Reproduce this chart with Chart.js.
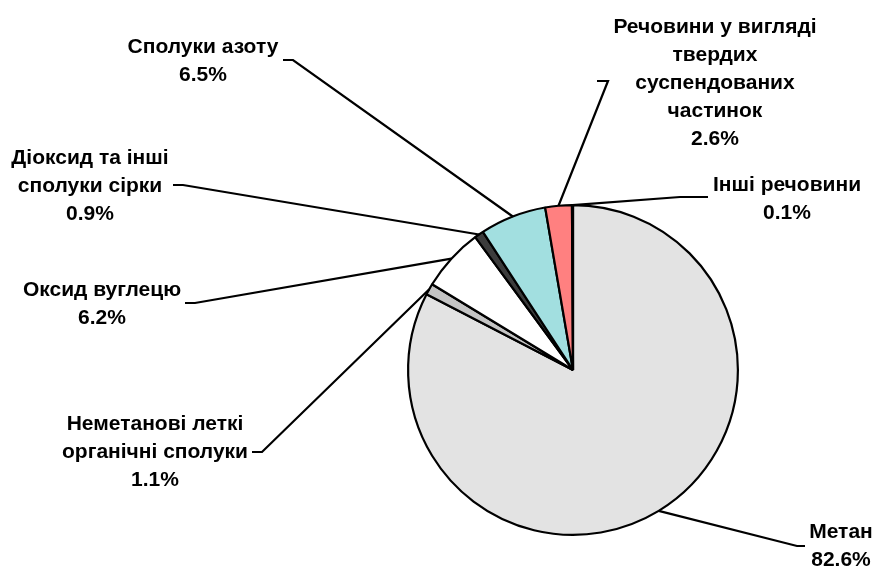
<!DOCTYPE html>
<html>
<head>
<meta charset="utf-8">
<script src="https://cdn.jsdelivr.net/npm/chart.js@4.4.0/dist/chart.umd.min.js"></script>
<style>
  html, body { margin: 0; padding: 0; background: #fff; }
  #wrap { width: 874px; height: 566px; }
</style>
</head>
<body>
<div id="wrap"><canvas id="emissions-chart"></canvas></div>
<script>
const labels = [
  ["Метан"],
  ["Неметанові леткі", "органічні сполуки"],
  ["Оксид вуглецю"],
  ["Діоксид та інші", "сполуки сірки"],
  ["Сполуки азоту"],
  ["Речовини у вигляді", "твердих", "суспендованих", "частинок"],
  ["Інші речовини"],
];
const values = [82.6, 1.1, 6.2, 0.9, 6.5, 2.6, 0.1];
const colors = ["#e3e3e3", "#c4c4c4", "#ffffff", "#3c3c3c", "#a2dfe0", "#ff8080", "#ffff99"];

// where each label sits: text centre x, first line y, elbow of the leader, end of the short tick
const callouts = [
  { tx: 841, ty: 532, ex: 797, ey: 546, hx: 805 },
  { tx: 155, ty: 424, ex: 262, ey: 452, hx: 252 },
  { tx: 102, ty: 290, ex: 195, ey: 303, hx: 185 },
  { tx: 90, ty: 158, ex: 183, ey: 185, hx: 173 },
  { tx: 203, ty: 47, ex: 293, ey: 60, hx: 283 },
  { tx: 715, ty: 27, ex: 608, ey: 81, hx: 597 },
  { tx: 787, ty: 185, ex: 680, ey: 197, hx: 708 },
];
const lineHeight = 28;

const calloutPlugin = {
  id: "callouts",
  afterDatasetsDraw(chart) {
    const ctx = chart.ctx;
    const arcs = chart.getDatasetMeta(0).data;
    ctx.save();
    ctx.strokeStyle = "#000";
    ctx.lineWidth = 2.2;
    ctx.fillStyle = "#000";
    ctx.font = "bold 21px 'Liberation Sans', Arial, sans-serif";
    ctx.textAlign = "center";
    ctx.textBaseline = "middle";
    arcs.forEach((arc, i) => {
      const p = arc.getProps(["x", "y", "startAngle", "endAngle", "outerRadius"], true);
      const mid = (p.startAngle + p.endAngle) / 2;
      const sx = p.x + Math.cos(mid) * p.outerRadius;
      const sy = p.y + Math.sin(mid) * p.outerRadius;
      const c = callouts[i];
      ctx.beginPath();
      ctx.moveTo(sx, sy);
      ctx.lineTo(c.ex, c.ey);
      ctx.lineTo(c.hx, c.ey);
      ctx.stroke();
      const lines = labels[i].concat([values[i].toFixed(1) + "%"]);
      lines.forEach((t, k) => ctx.fillText(t, c.tx, c.ty + k * lineHeight));
    });
    ctx.restore();
  },
};

const data = {
  labels: labels.map((l) => l.join(" ")),
  datasets: [
    {
      data: values,
      backgroundColor: colors,
      borderColor: "#000",
      borderWidth: 2.2,
      hoverOffset: 0,
    },
  ],
};

const options = {
  responsive: true,
  maintainAspectRatio: false,
  animation: false,
  events: [],
  layout: {
    padding: { left: 407, right: 135, top: 204, bottom: 30 },
  },
  plugins: {
    legend: { display: false },
    tooltip: { enabled: false },
  },
};

const emissionsChart = new Chart(document.getElementById("emissions-chart"), {
  type: "pie",
  data: data,
  options: options,
  plugins: [calloutPlugin],
});
</script>
</body>
</html>
